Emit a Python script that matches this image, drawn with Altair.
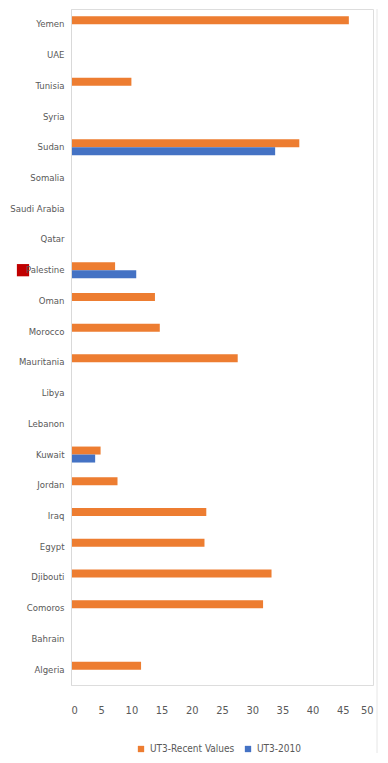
import altair as alt
import pandas as pd

countries = ["Yemen", "UAE", "Tunisia", "Syria", "Sudan", "Somalia", "Saudi Arabia",
             "Qatar", "Palestine", "Oman", "Morocco", "Mauritania", "Libya", "Lebanon",
             "Kuwait", "Jordan", "Iraq", "Egypt", "Djibouti", "Comoros", "Bahrain", "Algeria"]
recent = [46.0, None, 10.0, None, 37.8, None, None, None, 7.3, 13.9, 14.7, 27.6,
          None, None, 4.9, 7.7, 22.4, 22.1, 33.2, 31.8, None, 11.6]
base2010 = [None, None, None, None, 33.8, None, None, None, 10.8, None, None, None,
            None, None, 4.0, None, None, None, None, None, None, None]
series_names = ["UT3-Recent Values", "UT3-2010"]
series_colors = ["#ED7D31", "#4472C4"]
x_ticks = [0, 5, 10, 15, 20, 25, 30, 35, 40, 45, 50]

rows = []
for c, r, b in zip(countries, recent, base2010):
    rows.append({"country": c, "series": series_names[0], "value": r})
    rows.append({"country": c, "series": series_names[1], "value": b})
df = pd.DataFrame(rows)

FONT = "DejaVu Sans Condensed"
GRAY = "#595959"

bars = alt.Chart(df).mark_bar().encode(
    x=alt.X("value:Q", scale=alt.Scale(domain=[0, 50], nice=False),
            axis=alt.Axis(values=x_ticks, title=None, domain=False, ticks=False, grid=False,
                          labelPadding=19, labelFont=FONT, labelFontSize=11, labelColor=GRAY)),
    y=alt.Y("country:N", sort=countries,
            scale=alt.Scale(domain=countries, paddingInner=0.48, paddingOuter=0.24),
            axis=alt.Axis(title=None, ticks=False, domain=True, domainColor="#D9D9D9",
                          labelPadding=7, labelFont=FONT, labelFontSize=9.5, labelColor=GRAY,
                          minExtent=63, maxExtent=63, zindex=1)),
    yOffset=alt.YOffset("series:N", sort=series_names,
                        scale=alt.Scale(domain=series_names, paddingInner=0, paddingOuter=0)),
    color=alt.Color("series:N", sort=series_names,
                    scale=alt.Scale(domain=series_names, range=series_colors),
                    legend=alt.Legend(title=None, orient="none", legendX=65, legendY=735,
                                      direction="horizontal", symbolType="square",
                                      symbolSize=40, symbolStrokeWidth=0,
                                      labelFont=FONT, labelFontSize=10, labelColor=GRAY,
                                      columnPadding=8)),
)

marker = alt.Chart(pd.DataFrame({"country": ["Palestine"]})).mark_square(
    color="#C00000", size=150, opacity=1
).encode(
    y=alt.Y("country:N", sort=countries),
    x=alt.value(-48),
)

frame = alt.Chart(pd.DataFrame({"a": [0]})).mark_rule(color="#E6E6E6", strokeWidth=1).encode(
    x=alt.value(306), y=alt.value(0), y2=alt.value(744)
)

chart = alt.layer(bars, marker, frame).properties(
    width=302, height=676, padding=0
).configure_view(stroke=None).configure(background="white")

chart.save("out.html", embed_options={"renderer": "svg", "actions": False})
